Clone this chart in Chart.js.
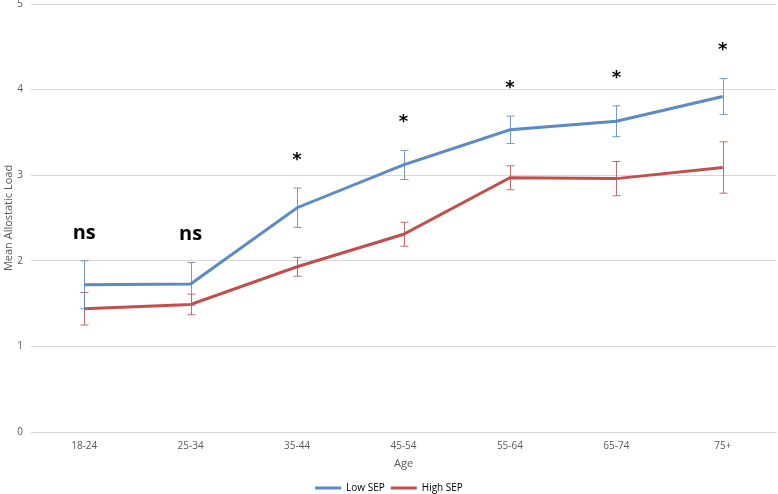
<!DOCTYPE html>
<html>
<head>
<meta charset="utf-8">
<script src="https://cdn.jsdelivr.net/npm/chart.js@4/dist/chart.umd.min.js"></script>
<style>
  html, body { margin: 0; padding: 0; background: #fff; }
  #wrap { width: 778px; height: 494px; }
</style>
</head>
<body>
<div id="wrap"><canvas id="myChart" width="778" height="494"></canvas></div>
<script>
var ages = ["18-24", "25-34", "35-44", "45-54", "55-64", "65-74", "75+"];
var lowSep = [1.72, 1.73, 2.62, 3.12, 3.53, 3.63, 3.92];
var lowSepErr = [0.28, 0.25, 0.23, 0.17, 0.16, 0.18, 0.21];
var highSep = [1.44, 1.49, 1.93, 2.31, 2.97, 2.96, 3.09];
var highSepErr = [0.19, 0.12, 0.11, 0.14, 0.14, 0.20, 0.30];
var signif = ["ns", "ns", "*", "*", "*", "*", "*"];
var yTicks = [0, 1, 2, 3, 4, 5];

var blue = '#5B8AC4';
var red = '#C0504D';

// error bars with caps, drawn on top of the lines
var errorBars = {
	id: 'errorBars',
	afterDatasetsDraw: function(chart) {
		var ctx = chart.ctx;
		var x = chart.scales.x, y = chart.scales.y;
		var sets = [[highSep, highSepErr, 'rgba(192,80,77,0.85)'], [lowSep, lowSepErr, 'rgba(91,138,196,0.85)']];
		ctx.save();
		ctx.lineWidth = 1;
		sets.forEach(function(s) {
			ctx.strokeStyle = s[2];
			s[0].forEach(function(v, i) {
				var px = Math.round(x.getPixelForValue(i)) + 0.5;
				var top = y.getPixelForValue(v + s[1][i]);
				var bot = y.getPixelForValue(v - s[1][i]);
				ctx.beginPath();
				ctx.moveTo(px, top); ctx.lineTo(px, bot);
				ctx.moveTo(px - 4, top); ctx.lineTo(px + 4, top);
				ctx.moveTo(px - 4, bot); ctx.lineTo(px + 4, bot);
				ctx.stroke();
			});
		});
		// significance marks above the upper bar
		ctx.fillStyle = '#000';
		ctx.textAlign = 'center';
		ctx.textBaseline = 'middle';
		signif.forEach(function(t, i) {
			var px = x.getPixelForValue(i);
			var top = y.getPixelForValue(lowSep[i] + lowSepErr[i]);
			if (t == 'ns') {
				ctx.font = 'bold 20px "Open Sans", sans-serif';
				ctx.fillText(t, px, top - 28);
			} else {
				ctx.font = 'bold 18px "DejaVu Sans", sans-serif';
				ctx.fillText(t, px, top - 28);
			}
		});
		ctx.restore();
	}
};

var ctx = document.getElementById("myChart");
var myChart = new Chart(ctx, {
	type: 'line',
	data: {
		labels: ages,
		datasets: [{
			label: 'Low SEP',
			data: lowSep,
			borderColor: blue,
			backgroundColor: blue,
			borderWidth: 3,
			pointRadius: 0,
			tension: 0
		}, {
			label: 'High SEP',
			data: highSep,
			borderColor: red,
			backgroundColor: red,
			borderWidth: 3,
			pointRadius: 0,
			tension: 0
		}]
	},
	options: {
		responsive: false,
		animation: false,
		layout: { padding: { top: 4, right: 2, left: 2, bottom: -9 } },
		plugins: {
			legend: {
				position: 'bottom',
				labels: {
					boxWidth: 26,
					boxHeight: 3,
					padding: 6,
					color: '#595959',
					font: { family: '"Open Sans", sans-serif', size: 10 },
					generateLabels: function(chart) {
						return chart.data.datasets.map(function(d, i) {
							return { text: d.label, fillStyle: d.borderColor, strokeStyle: d.borderColor, lineWidth: 0, datasetIndex: i };
						});
					}
				}
			},
			tooltip: { enabled: false }
		},
		scales: {
			x: {
				offset: true,
				afterFit: function(axis) { axis.height = 45; },
				grid: { display: false, drawTicks: false },
				border: { display: true, color: '#d9d9d9' },
				ticks: { color: '#595959', padding: 8, font: { family: '"Open Sans", sans-serif', size: 10 } },
				title: { display: true, text: 'Age', color: '#595959', padding: { top: 2, bottom: 7 }, font: { family: '"Open Sans", sans-serif', size: 11 } }
			},
			y: {
				min: 0,
				max: 5,
				afterBuildTicks: function(axis) { axis.ticks = yTicks.map(function(v) { return { value: v }; }); },
				afterFit: function(axis) { axis.width = 29; axis.paddingTop = 0; axis.paddingBottom = 0; },
				grid: { color: '#d9d9d9', drawTicks: false },
				border: { display: false },
				ticks: { color: '#595959', padding: 8, font: { family: '"Open Sans", sans-serif', size: 10 } },
				title: { display: true, text: 'Mean Allostatic Load', color: '#595959', padding: 0, font: { family: '"Open Sans", sans-serif', size: 11 } }
			}
		}
	},
	plugins: [errorBars]
});
</script>
</body>
</html>
